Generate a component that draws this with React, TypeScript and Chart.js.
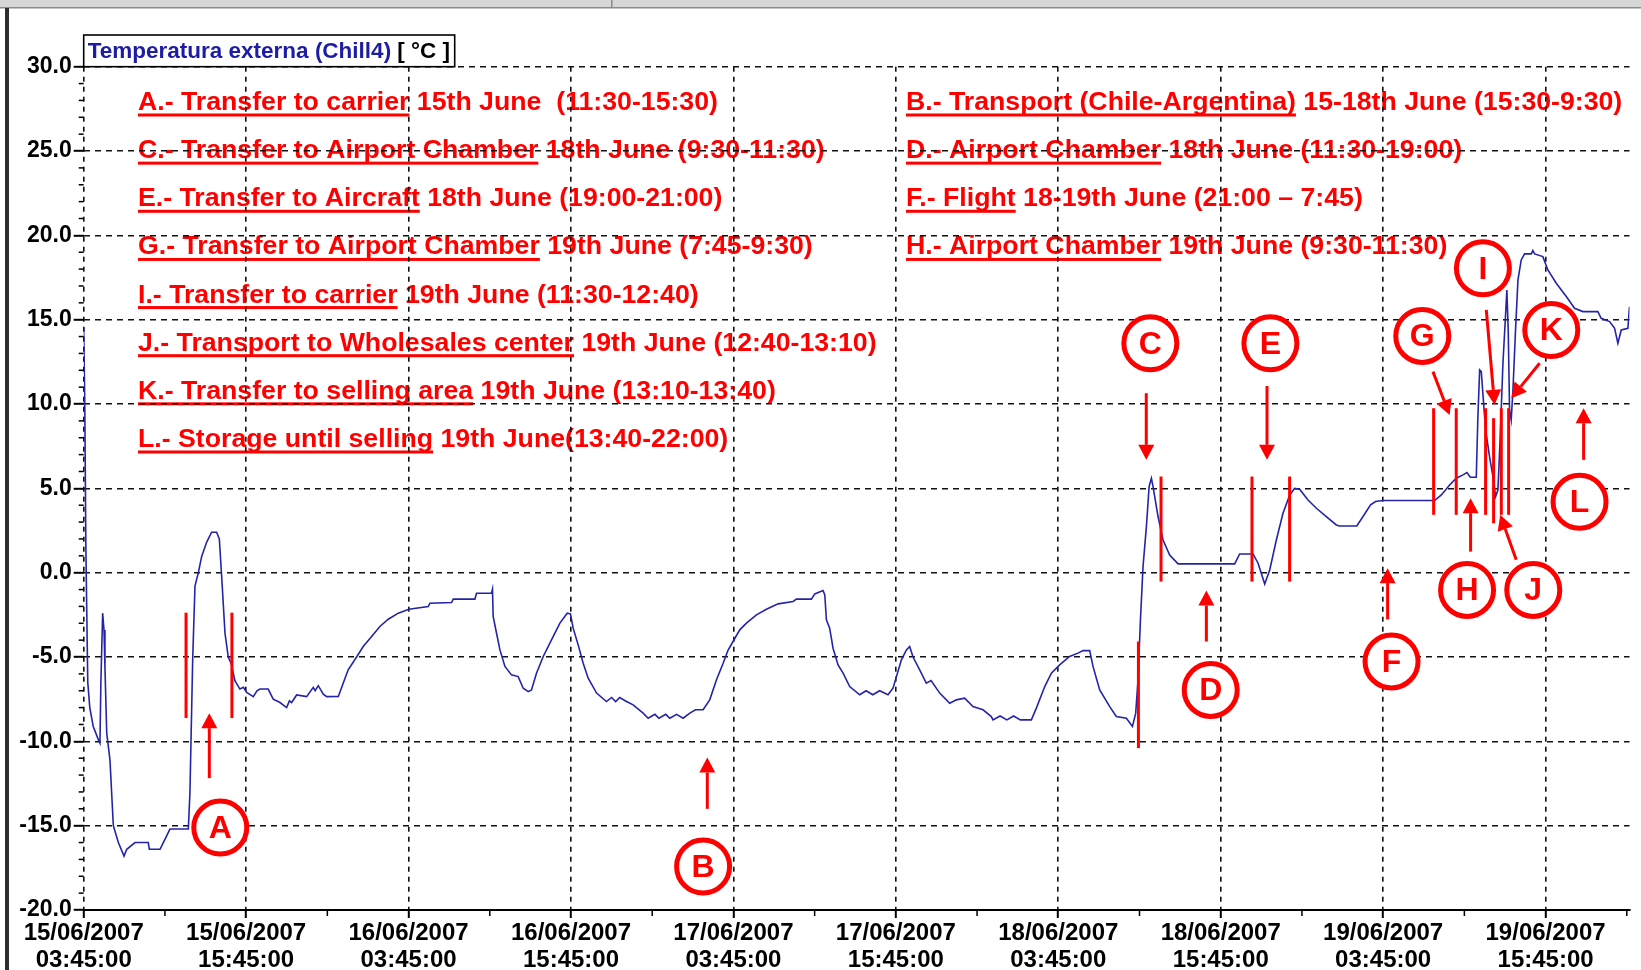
import { useEffect, useRef } from 'react';
import { Chart, registerables } from 'chart.js';

Chart.register(...registerables);

// Hours elapsed since 15/06/2007 03:45:00
const tempHours = [
  0.0, 0.08, 0.16, 0.3, 0.45, 0.7, 1.08, 1.2, 1.27, 1.4, 1.5, 1.57, 1.7, 1.94, 2.19, 2.56, 2.98, 3.18, 3.79, 4.77,
  4.85, 5.64, 5.88, 6.13, 6.37, 7.73, 7.85, 8.05, 8.22, 8.47, 8.71, 9.08, 9.45, 9.82, 10.02, 10.19, 10.44, 10.68, 10.9, 11.17,
  11.54, 11.8, 12.04, 12.53, 12.8, 13.02, 13.63, 14.0, 14.5, 14.99, 15.2, 15.36, 15.73, 16.47, 16.96, 17.1, 17.33, 17.7, 17.95, 18.81,
  19.17, 19.54, 20.16, 20.65, 21.27, 21.88, 22.5, 23.24, 24.02, 25.45, 25.58, 27.18, 27.3, 28.9, 29.02, 30.13, 30.2, 30.25, 30.5, 30.75,
  31.12, 31.6, 32.1, 32.47, 32.84, 33.08, 33.45, 33.95, 34.56, 35.18, 35.72, 35.96, 36.16, 36.53, 36.9, 37.27, 37.89, 38.62, 39.0, 39.3,
  39.6, 40.1, 40.59, 41.33, 41.7, 42.2, 42.5, 43.0, 43.3, 43.8, 44.28, 44.78, 45.2, 45.76, 46.25, 46.75, 47.24, 47.6, 47.97, 48.47,
  48.96, 49.7, 50.44, 51.3, 52.41, 52.65, 53.76, 54.01, 54.62, 54.75, 54.87, 55.11, 55.36, 55.73, 56.1, 56.59, 57.33, 57.8, 58.3, 58.8,
  59.42, 59.79, 60.41, 60.78, 61.02, 61.27, 61.76, 62.25, 62.6, 63.24, 63.98, 64.47, 65.08, 65.7, 66.44, 67.05, 67.18, 67.7, 68.2, 68.7,
  69.2, 70.01, 70.38, 71.0, 71.49, 72.1, 72.84, 73.46, 73.82, 74.32, 74.57, 75.06, 75.8, 76.29, 77.03, 77.48, 77.72, 77.89, 78.07, 78.26,
  78.51, 78.71, 78.88, 79.0, 79.37, 79.74, 80.23, 80.85, 85.03, 85.4, 86.39, 86.76, 87.25, 87.62, 88.11, 88.6, 89.1, 89.46, 89.83, 90.45,
  91.07, 91.8, 92.54, 92.77, 94.05, 94.43, 95.07, 95.44, 95.96, 99.8, 100.3, 100.91, 101.4, 101.9, 102.19, 102.44, 102.88, 103.0, 103.13, 103.25,
  103.42, 103.57, 103.86, 104.11, 104.31, 104.48, 104.65, 104.85, 105.05, 105.14, 105.24, 105.34, 105.46, 105.59, 105.78, 105.96, 106.2, 106.45, 106.94, 107.06,
  107.19, 107.8, 108.17, 108.79, 109.53, 110.14, 110.76, 111.86, 112.11, 112.73, 113.1, 113.34, 113.59, 114.08, 114.2,
];

const tempValues = [
  14.5, 10.0, 1.5, -6.5, -8.0, -9.1, -9.9, -10.1, -6.5, -2.4, -3.4, -5.6, -9.5, -11.1, -15.0, -16.0, -16.8, -16.4, -16.0, -16.0,
  -16.4, -16.4, -16.0, -15.6, -15.2, -15.2, -13.0, -5.2, -0.8, 0.0, 0.95, 1.8, 2.4, 2.4, 2.0, -0.2, -3.6, -5.0, -5.4, -6.4,
  -6.9, -6.8, -7.1, -7.35, -7.0, -6.9, -6.9, -7.5, -7.7, -8.0, -7.6, -7.7, -7.25, -7.35, -6.8, -7.0, -6.7, -7.2, -7.35, -7.34,
  -6.55, -5.76, -5.0, -4.38, -3.79, -3.19, -2.76, -2.4, -2.17, -2.01, -1.81, -1.77, -1.57, -1.57, -1.22, -1.22, -0.98, -2.6, -3.59, -4.58,
  -5.56, -6.06, -6.16, -6.85, -7.05, -6.95, -5.96, -4.97, -3.98, -2.99, -2.4, -2.44, -3.29, -4.28, -5.37, -6.26, -7.14, -7.64, -7.4, -7.64,
  -7.4, -7.64, -7.84, -8.33, -8.63, -8.4, -8.63, -8.4, -8.63, -8.4, -8.63, -8.33, -8.13, -8.13, -7.54, -6.35, -5.37, -4.6, -4.08, -3.39,
  -2.99, -2.5, -2.17, -1.85, -1.71, -1.57, -1.57, -1.26, -1.06, -1.32, -2.8, -3.29, -4.48, -5.47, -5.96, -6.75, -7.24, -7.0, -7.24, -7.0,
  -7.24, -6.85, -5.17, -4.58, -4.38, -5.0, -5.76, -6.55, -6.4, -7.14, -7.74, -7.54, -7.44, -7.94, -8.13, -8.53, -8.73, -8.5, -8.73, -8.5,
  -8.73, -8.73, -8.03, -6.75, -5.96, -5.47, -4.97, -4.77, -4.62, -4.62, -5.57, -6.95, -7.94, -8.53, -8.63, -9.12, -8.33, -6.36, -2.8, 0.36,
  2.73, 5.1, 5.6, 5.1, 3.33, 1.94, 1.05, 0.52, 0.52, 1.11, 1.11, 0.56, -0.67, 0.16, 1.94, 3.52, 4.61, 5.0, 4.95, 4.31,
  3.82, 3.33, 2.83, 2.77, 2.77, 3.23, 4.02, 4.22, 4.28, 4.28, 4.61, 5.2, 5.6, 5.8, 5.94, 5.66, 5.66, 9.26, 12.02, 11.92,
  10.05, 8.47, 6.88, 5.7, 4.51, 4.91, 8.07, 12.42, 15.38, 16.76, 14.39, 9.65, 9.06, 10.84, 14.39, 17.36, 18.54, 18.9, 18.9, 19.1,
  18.9, 18.74, 17.95, 17.16, 16.37, 15.68, 15.48, 15.48, 15.08, 14.89, 14.49, 13.6, 14.39, 14.49, 15.77,
];

const xTickDates = ['15/06/2007', '15/06/2007', '16/06/2007', '16/06/2007', '17/06/2007', '17/06/2007', '18/06/2007', '18/06/2007', '19/06/2007', '19/06/2007'];
const xTickTimes = ['03:45:00', '15:45:00', '03:45:00', '15:45:00', '03:45:00', '15:45:00', '03:45:00', '15:45:00', '03:45:00', '15:45:00'];

const seriesLabel = 'Temperatura externa (Chill4)';
const seriesUnit = '[ °C ]';

const notesLeft: [string, string][] = [
  ['A.- Transfer to carrier', '15th June  (11:30-15:30)'],
  ['C.- Transfer to Airport Chamber', '18th June (9:30-11:30)'],
  ['E.- Transfer to Aircraft', '18th June (19:00-21:00)'],
  ['G.- Transfer to Airport Chamber', '19th June (7:45-9:30)'],
  ['I.- Transfer to carrier', '19th June (11:30-12:40)'],
  ['J.- Transport to Wholesales center', '19th June (12:40-13:10)'],
  ['K.- Transfer to selling area', '19th June (13:10-13:40)'],
  ['L.- Storage until selling', '19th June(13:40-22:00)'],
];
const notesRight: [string, string][] = [
  ['B.- Transport (Chile-Argentina)', '15-18th June (15:30-9:30)'],
  ['D.- Airport Chamber', '18th June (11:30-19:00)'],
  ['F.- Flight', '18-19th June (21:00 – 7:45)'],
  ['H.- Airport Chamber', '19th June (9:30-11:30)'],
];

// Circled stage letters (hour, temperature)
const markerLetters = ['A', 'B', 'C', 'D', 'E', 'F', 'G', 'H', 'I', 'J', 'K', 'L'];
const markerHours = [10.09, 45.76, 78.8, 83.26, 87.67, 96.62, 98.89, 102.2, 103.37, 107.09, 108.42, 110.51];
const markerTemps = [-15.11, -17.42, 13.6, -6.95, 13.6, -5.26, 14.04, -1.02, 18.05, -1.02, 14.39, 4.21];

// Arrows: tail (hour, temp) -> tip (hour, temp)
const arrowTailHours = [9.28, 46.07, 78.5, 82.94, 87.42, 96.33, 99.68, 102.46, 103.62, 105.83, 107.56, 110.81];
const arrowTailTemps = [-12.18, -14.0, 10.64, -4.08, 11.07, -2.77, 11.92, 1.25, 15.58, 0.76, 12.42, 6.69];
const arrowTipHours = [9.28, 46.07, 78.5, 82.94, 87.42, 96.33, 100.91, 102.46, 104.23, 104.65, 105.47, 110.81];
const arrowTipTemps = [-8.33, -10.96, 6.69, -1.06, 6.69, 0.27, 9.35, 4.42, 9.95, 3.43, 10.34, 9.75];

// Stage boundary bars
const boundaryHours = [7.56, 10.95, 77.92, 79.59, 86.31, 89.09, 99.73, 101.4, 103.57, 104.16, 104.73, 105.27];
const boundaryLow = [-8.62, -8.62, -10.4, -0.53, -0.53, -0.53, 3.43, 3.43, 3.43, 2.93, 3.43, 3.43];
const boundaryHigh = [-2.37, -2.37, -4.08, 5.7, 5.7, 5.7, 9.75, 9.75, 9.75, 9.16, 9.75, 9.75];

const SANS = '"Liberation Sans", Arial, Helvetica, sans-serif';
const RED = '#ff0000';

const drawArrow = (ctx: CanvasRenderingContext2D, x1: number, y1: number, x2: number, y2: number) => {
  const ang = Math.atan2(y2 - y1, x2 - x1);
  const headLen = 15;
  const headHalf = 8;
  const bx = x2 - headLen * Math.cos(ang);
  const by = y2 - headLen * Math.sin(ang);
  ctx.beginPath();
  ctx.moveTo(x1, y1);
  ctx.lineTo(bx, by);
  ctx.stroke();
  ctx.beginPath();
  ctx.moveTo(x2, y2);
  ctx.lineTo(bx + headHalf * Math.sin(ang), by - headHalf * Math.cos(ang));
  ctx.lineTo(bx - headHalf * Math.sin(ang), by + headHalf * Math.cos(ang));
  ctx.closePath();
  ctx.fill();
};

const decorPlugin = {
  id: 'decor',
  beforeDraw(chart: any) {
    const ctx: CanvasRenderingContext2D = chart.ctx;
    ctx.save();
    ctx.fillStyle = '#ffffff';
    ctx.fillRect(0, 0, chart.width, chart.height);
    ctx.font = `bold 26.7px ${SANS}`;
    ctx.textBaseline = 'alphabetic';
    const drawNotes = (notes: [string, string][], x0: number) => {
      notes.forEach(([u, rest], i) => {
        const base = 110 + 48.14 * i;
        ctx.fillStyle = RED;
        ctx.fillText(u, x0, base);
        const w = ctx.measureText(u).width;
        ctx.fillRect(x0, base + 3.5, w, 3);
        ctx.fillText(' ' + rest, x0 + w, base);
      });
    };
    drawNotes(notesLeft, 138);
    drawNotes(notesRight, 906);
    ctx.restore();
  },
  afterDatasetsDraw(chart: any) {
    const ctx: CanvasRenderingContext2D = chart.ctx;
    const xs = chart.scales.x;
    const ys = chart.scales.y;
    ctx.save();
    ctx.strokeStyle = RED;
    ctx.fillStyle = RED;
    ctx.lineWidth = 3;
    boundaryHours.forEach((h, i) => {
      const x = xs.getPixelForValue(h);
      ctx.beginPath();
      ctx.moveTo(x, ys.getPixelForValue(boundaryLow[i]));
      ctx.lineTo(x, ys.getPixelForValue(boundaryHigh[i]));
      ctx.stroke();
    });
    arrowTailHours.forEach((h, i) => {
      drawArrow(
        ctx,
        xs.getPixelForValue(h),
        ys.getPixelForValue(arrowTailTemps[i]),
        xs.getPixelForValue(arrowTipHours[i]),
        ys.getPixelForValue(arrowTipTemps[i])
      );
    });
    markerLetters.forEach((letter, i) => {
      const cx = xs.getPixelForValue(markerHours[i]);
      const cy = ys.getPixelForValue(markerTemps[i]);
      ctx.beginPath();
      ctx.arc(cx, cy, 26.5, 0, Math.PI * 2);
      ctx.fillStyle = '#ffffff';
      ctx.fill();
      ctx.lineWidth = 5;
      ctx.strokeStyle = RED;
      ctx.stroke();
      ctx.fillStyle = RED;
      ctx.font = `bold 32px ${SANS}`;
      ctx.textAlign = 'center';
      ctx.textBaseline = 'middle';
      ctx.fillText(letter, cx, cy + 1.5);
    });
    ctx.restore();
  },
  afterDraw(chart: any) {
    const ctx: CanvasRenderingContext2D = chart.ctx;
    const xs = chart.scales.x;
    const ys = chart.scales.y;
    const area = chart.chartArea;
    ctx.save();
    // minor ticks
    ctx.strokeStyle = '#000';
    ctx.lineWidth = 1.5;
    for (let t = -19; t < 30; t++) {
      if (t % 5 === 0) continue;
      const y = ys.getPixelForValue(t);
      ctx.beginPath();
      ctx.moveTo(area.left - 5, y);
      ctx.lineTo(area.left, y);
      ctx.stroke();
    }
    for (let h = 6; h < xs.max; h += 12) {
      const x = xs.getPixelForValue(h);
      ctx.beginPath();
      ctx.moveTo(x, area.bottom);
      ctx.lineTo(x, area.bottom + 6);
      ctx.stroke();
    }
    // series legend box
    ctx.fillStyle = '#fff';
    ctx.fillRect(area.left, 35, 371, area.top - 35);
    ctx.lineWidth = 1.6;
    ctx.strokeStyle = '#000';
    ctx.strokeRect(area.left, 35, 371, area.top - 35);
    ctx.font = `bold 22.5px ${SANS}`;
    ctx.textBaseline = 'alphabetic';
    ctx.fillStyle = '#1c1ca6';
    ctx.fillText(seriesLabel, area.left + 4, 57.5);
    const w = ctx.measureText(seriesLabel + ' ').width;
    ctx.fillStyle = '#000';
    ctx.fillText(seriesUnit, area.left + 4 + w, 57.5);
    // window chrome
    ctx.fillStyle = '#d6d6d6';
    ctx.fillRect(0, 0, chart.width, 7);
    ctx.fillStyle = '#8a8a8a';
    ctx.fillRect(0, 7, chart.width, 1.5);
    ctx.fillRect(611, 0, 1.5, 7);
    ctx.fillStyle = '#2e2e2e';
    ctx.fillRect(5, 8, 4, chart.height - 8);
    ctx.restore();
  },
};

export default function App() {
  const canvasRef = useRef<HTMLCanvasElement | null>(null);

  useEffect(() => {
    const canvas = canvasRef.current;
    if (!canvas) return;
    const chart = new Chart(canvas, {
      type: 'line',
      data: {
        datasets: [
          {
            label: seriesLabel,
            data: tempHours.map((h, i) => ({ x: h, y: tempValues[i] })),
            borderColor: '#2424a8',
            borderWidth: 1.6,
            pointRadius: 0,
            tension: 0,
            fill: false,
          },
        ],
      },
      options: {
        animation: false,
        responsive: false,
        maintainAspectRatio: false,
        devicePixelRatio: 1,
        layout: { padding: { top: 66.7, left: 0, right: 11.5, bottom: 0 } },
        plugins: { legend: { display: false }, tooltip: { enabled: false } },
        scales: {
          x: {
            type: 'linear',
            min: 0,
            max: 114.2,
            afterFit: (s: any) => {
              s.height = 60;
            },
            ticks: {
              stepSize: 12,
              includeBounds: false,
              autoSkip: false,
              maxRotation: 0,
              minRotation: 0,
              padding: 2,
              color: '#000',
              font: { family: SANS, size: 24, weight: 'bold', lineHeight: 1.13 },
              callback: (v: any) => {
                const i = Math.round(Number(v) / 12);
                return [xTickDates[i] ?? '', xTickTimes[i] ?? ''];
              },
            },
            grid: { color: '#111', lineWidth: 1.6, tickLength: 8, tickColor: '#000', tickWidth: 2 },
            border: { display: true, color: '#000', width: 2, dash: [5, 5] },
          },
          y: {
            type: 'linear',
            min: -20,
            max: 30,
            afterFit: (s: any) => {
              s.width = 83.7;
            },
            ticks: {
              stepSize: 5,
              padding: 2,
              color: '#000',
              font: { family: SANS, size: 23, weight: 'bold' },
              callback: (v: any) => Number(v).toFixed(1),
            },
            grid: { color: '#111', lineWidth: 1.6, tickLength: 10, tickColor: '#000', tickWidth: 2 },
            border: { display: false, dash: [6, 5] },
          },
        },
      },
      plugins: [decorPlugin],
    } as any);
    return () => chart.destroy();
  }, []);

  return (
    <div style={{ position: 'fixed', left: 0, top: 0, width: 1641, height: 970, background: '#fff' }}>
      <canvas ref={canvasRef} width={1641} height={970} style={{ display: 'block' }} />
    </div>
  );
}
